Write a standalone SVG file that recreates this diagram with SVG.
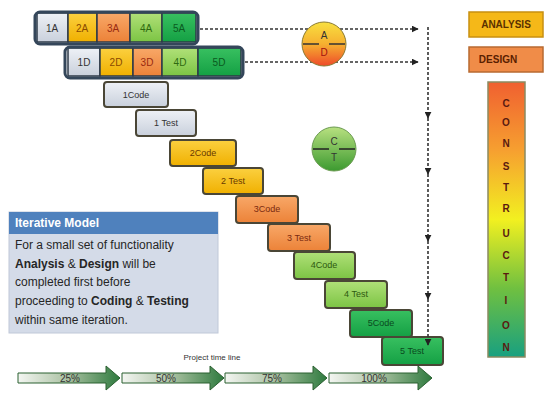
<svg xmlns="http://www.w3.org/2000/svg" width="550" height="393" viewBox="0 0 550 393">
<defs>
<linearGradient id="gGray" x1="0" y1="0" x2="0" y2="1"><stop offset="0" stop-color="#eef1f6"/><stop offset="1" stop-color="#c9d0dc"/></linearGradient>
<linearGradient id="gGold" x1="0" y1="0" x2="0" y2="1"><stop offset="0" stop-color="#fbd040"/><stop offset="1" stop-color="#f0b000"/></linearGradient>
<linearGradient id="gOrange" x1="0" y1="0" x2="0" y2="1"><stop offset="0" stop-color="#f8a868"/><stop offset="1" stop-color="#ec8238"/></linearGradient>
<linearGradient id="gLGreen" x1="0" y1="0" x2="0" y2="1"><stop offset="0" stop-color="#b0e078"/><stop offset="1" stop-color="#7cc444"/></linearGradient>
<linearGradient id="gGreen" x1="0" y1="0" x2="0" y2="1"><stop offset="0" stop-color="#38c060"/><stop offset="1" stop-color="#14a044"/></linearGradient>
<linearGradient id="gAD" x1="0" y1="0" x2="0" y2="1"><stop offset="0" stop-color="#f8e040"/><stop offset="0.5" stop-color="#f6b030"/><stop offset="1" stop-color="#ee4a2a"/></linearGradient>
<linearGradient id="gCT" x1="0" y1="0" x2="0" y2="1"><stop offset="0" stop-color="#b8e080"/><stop offset="1" stop-color="#3c9a30"/></linearGradient>
<linearGradient id="gCon" x1="0" y1="0" x2="0" y2="1"><stop offset="0" stop-color="#f06030"/><stop offset="0.25" stop-color="#f6a030"/><stop offset="0.5" stop-color="#f2f020"/><stop offset="0.75" stop-color="#70c040"/><stop offset="1" stop-color="#18a080"/></linearGradient>
<linearGradient id="gTime" x1="0" y1="0" x2="1" y2="0"><stop offset="0" stop-color="#f4f6f2"/><stop offset="0.5" stop-color="#a8c0a0"/><stop offset="1" stop-color="#2e7a3e"/></linearGradient>
<marker id="ah" viewBox="0 0 10 10" refX="9" refY="5" markerWidth="7" markerHeight="7" markerUnits="userSpaceOnUse" orient="auto"><path d="M0,0 L10,5 L0,10 Z" fill="#222"/></marker>
</defs>
<style>
text{font-family:"Liberation Sans",Arial,sans-serif}
.cell{stroke:#2e3a48;stroke-width:1.5}
.cont{fill:none;stroke:#34465a;stroke-width:3}
.ct{font-size:10px;text-anchor:middle}
.step{stroke:#4a4636;stroke-width:2}
.st{font-size:9px;text-anchor:middle}
.dot{fill:none;stroke:#333;stroke-width:1.6;stroke-dasharray:3 2}
.tl{stroke:#2a6030;stroke-width:1;fill:url(#gTime)}
.tt{font-size:10px;text-anchor:middle;fill:#333}
.body{font-size:12px;fill:#262626}
.cl{font-size:10px;text-anchor:middle;fill:#5a1a10;font-weight:bold}
</style>
<rect width="550" height="393" fill="#ffffff"/>

<g id="connectors">
<line class="dot" x1="200" y1="29" x2="418" y2="29" marker-end="url(#ah)"/>
<line class="dot" x1="245" y1="62" x2="418" y2="62" marker-end="url(#ah)"/>
<line class="dot" x1="428" y1="27" x2="428" y2="118" marker-end="url(#ah)"/>
<line class="dot" x1="428" y1="118" x2="428" y2="174" marker-end="url(#ah)"/>
<line class="dot" x1="428" y1="174" x2="428" y2="241" marker-end="url(#ah)"/>
<line class="dot" x1="428" y1="241" x2="428" y2="299" marker-end="url(#ah)"/>
</g>

<g id="rowA">
<rect x="37" y="13" width="31" height="29" fill="url(#gGray)" class="cell"/>
<rect x="68" y="13" width="29" height="29" fill="url(#gGold)" class="cell"/>
<rect x="97" y="13" width="33" height="29" fill="url(#gOrange)" class="cell"/>
<rect x="130" y="13" width="32" height="29" fill="url(#gLGreen)" class="cell"/>
<rect x="162" y="13" width="34" height="29" fill="url(#gGreen)" class="cell"/>
<rect class="cont" x="35" y="12" width="163" height="32" rx="5"/>
<text class="ct" x="52" y="32" fill="#333">1A</text>
<text class="ct" x="82" y="32" fill="#8a4a00">2A</text>
<text class="ct" x="113" y="32" fill="#9a2a10">3A</text>
<text class="ct" x="146" y="32" fill="#2e6a10">4A</text>
<text class="ct" x="179" y="32" fill="#0a5a20">5A</text>
</g>

<g id="rowD">
<rect x="68" y="48" width="32" height="28" fill="url(#gGray)" class="cell"/>
<rect x="100" y="48" width="33" height="28" fill="url(#gGold)" class="cell"/>
<rect x="133" y="48" width="29" height="28" fill="url(#gOrange)" class="cell"/>
<rect x="162" y="48" width="36" height="28" fill="url(#gLGreen)" class="cell"/>
<rect x="198" y="48" width="43" height="28" fill="url(#gGreen)" class="cell"/>
<rect class="cont" x="65" y="47" width="178" height="31" rx="5"/>
<text class="ct" x="84" y="66" fill="#333">1D</text>
<text class="ct" x="116" y="66" fill="#8a4a00">2D</text>
<text class="ct" x="147" y="66" fill="#9a2a10">3D</text>
<text class="ct" x="180" y="66" fill="#2e6a10">4D</text>
<text class="ct" x="219" y="66" fill="#0a5a20">5D</text>
</g>

<g id="circleAD">
<circle cx="324" cy="44" r="22" fill="url(#gAD)" stroke="#8a7a30" stroke-width="1"/>
<line x1="303" y1="44" x2="319" y2="44" stroke="#333" stroke-width="1.5"/>
<line x1="329" y1="44" x2="345" y2="44" stroke="#333" stroke-width="1.5"/>
<text class="ct" x="324" y="39" font-size="9" fill="#333">A</text>
<text class="ct" x="324" y="56" font-size="9" fill="#a01010">D</text>
</g>

<g id="circleCT">
<circle cx="334" cy="149" r="22" fill="url(#gCT)" stroke="#6a9a50" stroke-width="1"/>
<line x1="313" y1="149" x2="329" y2="149" stroke="#222" stroke-width="1.5"/>
<line x1="339" y1="149" x2="355" y2="149" stroke="#222" stroke-width="1.5"/>
<text class="ct" x="334" y="145" font-size="9" fill="#333">C</text>
<text class="ct" x="334" y="161" font-size="9" fill="#333">T</text>
</g>

<g id="code1"><rect class="step" x="104" y="82" width="64" height="25" rx="3" fill="url(#gGray)"/><text class="st" x="136" y="98" fill="#333">1Code</text></g>
<g id="test1"><rect class="step" x="136" y="110" width="60" height="26" rx="3" fill="url(#gGray)"/><text class="st" x="166" y="126" fill="#333">1 Test</text></g>
<g id="code2"><rect class="step" x="170" y="140" width="66" height="26" rx="3" fill="url(#gGold)"/><text class="st" x="203" y="156" fill="#6a3a00">2Code</text></g>
<g id="test2"><rect class="step" x="203" y="168" width="60" height="26" rx="3" fill="url(#gGold)"/><text class="st" x="233" y="184" fill="#6a3a00">2 Test</text></g>
<g id="code3"><rect class="step" x="236" y="196" width="62" height="27" rx="3" fill="url(#gOrange)"/><text class="st" x="267" y="212" fill="#7a2a10">3Code</text></g>
<g id="test3"><rect class="step" x="268" y="224" width="62" height="27" rx="3" fill="url(#gOrange)"/><text class="st" x="299" y="241" fill="#7a2a10">3 Test</text></g>
<g id="code4"><rect class="step" x="294" y="252" width="61" height="27" rx="3" fill="url(#gLGreen)"/><text class="st" x="324" y="268" fill="#2e5a10">4Code</text></g>
<g id="test4"><rect class="step" x="325" y="281" width="62" height="27" rx="3" fill="url(#gLGreen)"/><text class="st" x="356" y="297" fill="#2e5a10">4 Test</text></g>
<g id="code5"><rect class="step" x="350" y="310" width="62" height="27" rx="3" fill="url(#gGreen)"/><text class="st" x="381" y="326" fill="#0a4a20">5Code</text></g>
<g id="test5"><rect class="step" x="382" y="337" width="61" height="28" rx="3" fill="url(#gGreen)"/><text class="st" x="412" y="354" fill="#0a4a20">5 Test</text></g>

<g id="connector-last">
<line class="dot" x1="428" y1="299" x2="428" y2="345" marker-end="url(#ah)"/>
</g>

<g id="iterativeModel">
<rect x="9" y="212" width="209" height="121" fill="#d4dbe8" stroke="#c0c8d8" stroke-width="1"/>
<rect x="9" y="212" width="209" height="22" fill="#4f81bd"/>
<text x="15" y="227" font-size="12" font-weight="bold" fill="#ffffff">Iterative  Model</text>
<text class="body" x="15" y="249">For a small set of functionality</text>
<text class="body" x="15" y="268"><tspan font-weight="bold">Analysis</tspan> &amp;  <tspan font-weight="bold">Design</tspan> will be</text>
<text class="body" x="15" y="286">completed first before</text>
<text class="body" x="15" y="305">proceeding to <tspan font-weight="bold">Coding</tspan> &amp; <tspan font-weight="bold">Testing</tspan></text>
<text class="body" x="15" y="324">within same iteration.</text>
</g>

<g id="analysis">
<rect x="469" y="12" width="74" height="25" fill="#f5b818" stroke="#c89010" stroke-width="1.5"/>
<text x="506" y="28" font-size="10" font-weight="bold" text-anchor="middle" fill="#5a3000">ANALYSIS</text>
</g>
<g id="design">
<rect x="469" y="47" width="74" height="25" fill="#f08c48" stroke="#b86a30" stroke-width="1.5"/>
<text x="498" y="63" font-size="10" font-weight="bold" text-anchor="middle" fill="#5a2000">DESIGN</text>
</g>
<g id="construction">
<rect x="488" y="82" width="37" height="275" fill="url(#gCon)" stroke="#8a8a60" stroke-width="1.5"/>
<text class="cl" x="506" y="107">C</text>
<text class="cl" x="506" y="126">O</text>
<text class="cl" x="506" y="147">N</text>
<text class="cl" x="506" y="170">S</text>
<text class="cl" x="506" y="191">T</text>
<text class="cl" x="506" y="212">R</text>
<text class="cl" x="506" y="237">U</text>
<text class="cl" x="506" y="259">C</text>
<text class="cl" x="506" y="281">T</text>
<text class="cl" x="506" y="304">I</text>
<text class="cl" x="506" y="329">O</text>
<text class="cl" x="506" y="351">N</text>
</g>

<g id="timeline">
<text x="212" y="360" font-size="8" text-anchor="middle" fill="#333">Project time line</text>
<path class="tl" d="M18,373 H106 V366 L120,378 L106,390 V383 H18 Z"/>
<path class="tl" d="M122,373 H210 V366 L224,378 L210,390 V383 H122 Z"/>
<path class="tl" d="M225,373 H313 V366 L327,378 L313,390 V383 H225 Z"/>
<path class="tl" d="M329,373 H418 V366 L432,378 L418,390 V383 H329 Z"/>
<text class="tt" x="70" y="382">25%</text>
<text class="tt" x="166" y="382">50%</text>
<text class="tt" x="272" y="382">75%</text>
<text class="tt" x="374" y="382">100%</text>
</g>
</svg>
